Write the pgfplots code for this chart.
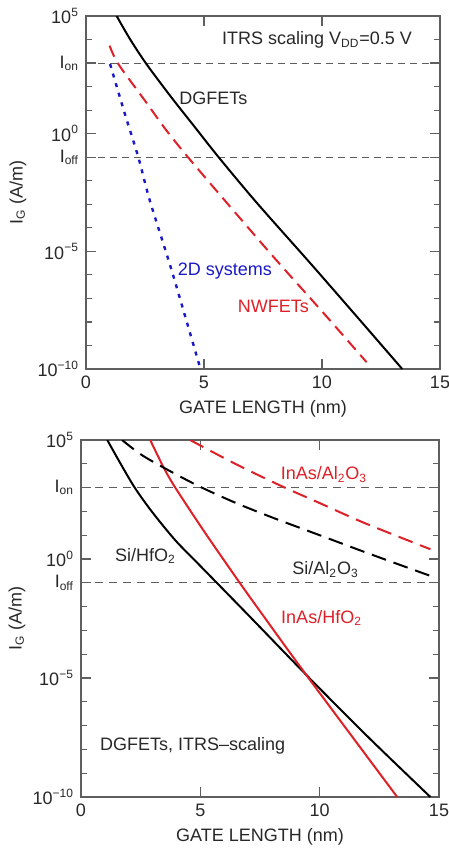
\documentclass[border=0pt]{standalone}
\usepackage{fontspec}
\setmainfont{Liberation Sans}
\usepackage{pgfplots}
\pgfplotsset{compat=1.18}
\definecolor{myred}{RGB}{222,32,40}
\definecolor{myblue}{RGB}{25,25,200}
\definecolor{axgray}{RGB}{95,95,95}
\definecolor{txt}{RGB}{40,40,40}
\newcommand{\fs}{\fontsize{9}{11}\selectfont}
\tikzset{lbl/.style={font=\fs, anchor=base}}
\begin{document}
\begin{tikzpicture}
\useasboundingbox (0,0) rectangle (224.5pt,-425pt);
% ---------- top panel ----------
\begin{axis}[at={(43pt,-184.5pt)}, anchor=south west, width=177pt, height=176.5pt,
  scale only axis, ymode=log, xmin=0, xmax=15, ymin=1e-10, ymax=1e5,
  xtick={0,5,10,15}, ytick={1e-10,1e-5,1,1e5},
  yticklabels={10\textsuperscript{−10},10\textsuperscript{−5},10\textsuperscript{0},10\textsuperscript{5}},
  minor ytick={1e-9,1e-8,1e-7,1e-6,1e-4,1e-3,1e-2,1e-1,1e1,1e2,1e3,1e4},
  extra y ticks={1e3,1e-1},
  extra y tick labels={I\textsubscript{on},I\textsubscript{off}},
  major tick length=5pt, minor tick length=3pt,
  axis line style={axgray, line width=0.6pt},
  tick style={axgray, line width=0.6pt},
  tick label style={font=\fs, text=txt},
  label style={font=\fs, text=txt},
  /pgf/number format/assume math mode=true,
  xlabel={GATE LENGTH (nm)}, ylabel={I\textsubscript{G} (A/m)},
  xlabel style={at={(axis description cs:0.5,0)}, anchor=center, yshift=-20pt},
  ylabel style={at={(axis description cs:0,0.5)}, anchor=center, yshift=34pt}]
\addplot[axgray, line width=0.5pt, dash pattern=on 3.5pt off 2.5pt] coordinates {(0,1e3) (15,1e3)};
\addplot[axgray, line width=0.5pt, dash pattern=on 3.5pt off 2.5pt] coordinates {(0,1e-1) (15,1e-1)};
% DGFETs
\addplot[black, line width=1pt, smooth] coordinates {
 (1.3,1e5) (1.864,1.047e4) (2.56,912) (3.62,34.7) (4.6,1.97) (5.62,1e-1)
 (7.23,1.175e-3) (9.5,3.16e-6) (11.5,1.585e-8) (13.4,1e-10)};
% NWFETs
\addplot[myred, line width=1pt, smooth, dash pattern=on 6pt off 3.5pt] coordinates {
 (1.0,5.50e3) (1.37,912) (2.5,25.1) (3.4,1.41) (4.33,9.77e-2) (5.96,1.175e-3)
 (8.0,5.01e-6) (10.0,2.82e-8) (11.89,1.95e-10)};
% 2D systems
\addplot[myblue, line width=1.2pt, smooth, dash pattern=on 2pt off 3pt] coordinates {
 (1.02,912) (1.65,6.76) (2.22,9.77e-2) (2.71,1.38e-3) (3.63,1.55e-6) (4.85,1e-10)};
\node[lbl, text=txt] at (axis cs:9.79,5.89e3) {ITRS scaling V\textsubscript{DD}=0.5 V};
\node[lbl, text=txt] at (axis cs:5.4,18.0) {DGFETs};
\node[lbl, text=myblue] at (axis cs:5.88,9.5e-7) {2D systems};
\node[lbl, text=myred] at (axis cs:7.94,2.63e-8) {NWFETs};
\end{axis}
% ---------- bottom panel ----------
\begin{axis}[at={(40.5pt,-398.5pt)}, anchor=south west, width=179pt, height=178.5pt,
  scale only axis, ymode=log, xmin=0, xmax=15, ymin=1e-10, ymax=1e5,
  xtick={0,5,10,15}, ytick={1e-10,1e-5,1,1e5},
  yticklabels={10\textsuperscript{−10},10\textsuperscript{−5},10\textsuperscript{0},10\textsuperscript{5}},
  minor ytick={1e-9,1e-8,1e-7,1e-6,1e-4,1e-3,1e-2,1e-1,1e1,1e2,1e3,1e4},
  extra y ticks={1e3,1e-1},
  extra y tick labels={I\textsubscript{on},I\textsubscript{off}},
  major tick length=5pt, minor tick length=3pt,
  axis line style={axgray, line width=0.6pt},
  tick style={axgray, line width=0.6pt},
  tick label style={font=\fs, text=txt},
  label style={font=\fs, text=txt},
  /pgf/number format/assume math mode=true,
  xlabel={GATE LENGTH (nm)}, ylabel={I\textsubscript{G} (A/m)},
  xlabel style={at={(axis description cs:0.5,0)}, anchor=center, yshift=-20pt},
  ylabel style={at={(axis description cs:0,0.5)}, anchor=center, yshift=32pt}]
\addplot[axgray, line width=0.5pt, dash pattern=on 4pt off 3pt] coordinates {(0,1e3) (15,1e3)};
\addplot[axgray, line width=0.5pt, dash pattern=on 4pt off 3pt] coordinates {(0,1e-1) (15,1e-1)};
% Si/HfO2
\addplot[black, line width=1pt, smooth] coordinates {
 (1.1,1e5) (1.65,1.047e4) (2.25,1e3) (2.97,97.7) (3.94,6.31) (4.92,0.617)
 (5.7,9.77e-2) (7.14,3.24e-3) (9.43,1.38e-5) (12,3.55e-8) (14.64,1e-10)};
% InAs/HfO2
\addplot[myred, line width=1pt, smooth] coordinates {
 (2.9,1e5) (3.46,7.08e3) (3.95,1e3) (5.2,12.6) (6.65,1e-1) (7.7,3.39e-3)
 (9.43,1.38e-5) (13.25,1e-10)};
% Si/Al2O3
\addplot[black, line width=1pt, smooth, dash pattern=on 7.5pt off 4pt] coordinates {
 (1.72,1e5) (2.5,2.51e4) (3.46,6.92e3) (4.92,1.17e3) (6.5,2.24e2) (8.0,5.62e1)
 (10,1e1) (12,1.78) (14.64,1.95e-1)};
% InAs/Al2O3
\addplot[myred, line width=1pt, smooth, dash pattern=on 7.5pt off 4pt] coordinates {
 (4.57,1e5) (6.5,9.55e3) (8.39,1.17e3) (10,2.24e2) (11.86,3.31e1) (14.64,2.57)};
\node[lbl, text=myred] at (axis cs:10.18,2.09e3) {InAs/Al\textsubscript{2}O\textsubscript{3}};
\node[lbl, text=txt] at (axis cs:2.7,0.776) {Si/HfO\textsubscript{2}};
\node[lbl, text=txt] at (axis cs:10.25,0.214) {Si/Al\textsubscript{2}O\textsubscript{3}};
\node[lbl, text=myred] at (axis cs:10.08,2.0e-3) {InAs/HfO\textsubscript{2}};
\node[lbl, text=txt] at (axis cs:4.68,8.9e-9) {DGFETs, ITRS–scaling};
\end{axis}
\end{tikzpicture}
\end{document}
